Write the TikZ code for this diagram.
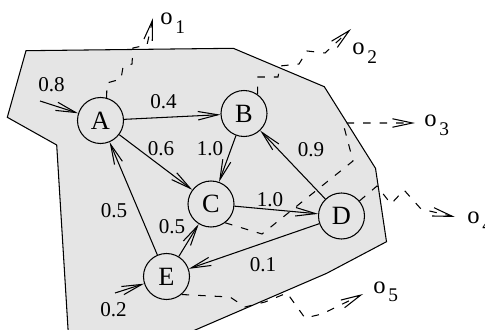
\documentclass[tikz,border=0pt]{standalone}
\usepackage{fontspec}
\setmainfont{Liberation Serif}
\usetikzlibrary{arrows.meta}
\definecolor{Shade}{HTML}{E5E5E5}
\newcommand{\outsub}[1]{o\hspace{1.5pt}\raisebox{-5pt}{\fontsize{11}{11}\selectfont #1}}
\tikzset{
  arr/.style={-{Straight Barb[length=4mm,width=1.7mm]},line width=0.6pt},
  flowarr/.style={arr,dash pattern=on 0.15cm off 0.18cm},
  statebox/.style={circle,draw,fill=Shade,line width=0.6pt,minimum size=0.92cm,inner sep=0pt,font=\fontsize{15}{15}\selectfont},
  wlabel/.style={inner sep=0pt,font=\fontsize{12}{12}\selectfont},
  outlabel/.style={inner sep=0pt,anchor=base west,font=\fontsize{14}{14}\selectfont},
  regionbox/.style={draw,fill=Shade,line width=0.6pt}
}
\begin{document}
\begin{tikzpicture}
  \useasboundingbox (0,0) rectangle (9.7,6.58);
  \clip (0,0) rectangle (9.7,6.58);
  \draw[regionbox] (0.52,5.566) -- (4.666,5.614) -- (6.486,4.846) -- (7.51,3.214) -- (7.73,1.746) -- (6.534,1.114) -- (3.44,-0.22) -- (1.374,-0.22) -- (1.134,3.68) -- (0.146,4.234) -- cycle;
  \node[statebox] (A) at (2.01,4.17) {A};
  \node[statebox] (B) at (4.88,4.31) {B};
  \node[statebox] (C) at (4.22,2.50) {C};
  \node[statebox] (D) at (6.83,2.26) {D};
  \node[statebox] (E) at (3.33,1.05) {E};
  \coordinate (inA) at (0.80,4.56);
  \coordinate (inE) at (2.30,0.72);
  \draw[arr] (inA)--(A);\draw[arr] (inE)--(E);
  \draw[arr] (A)--(B);\draw[arr] (A)--(C);\draw[arr] (B)--(C);\draw[arr] (C)--(D);
  \draw[arr] (D)--(B);\draw[arr] (D)--(E);\draw[arr] (E)--(A);\draw[arr] (E)--(C);
  \node[wlabel] (wA) at (1.03,4.88) {0.8};
  \node[wlabel] (wAB) at (3.27,4.55) {0.4};
  \node[wlabel] (wAC) at (3.22,3.61) {0.6};
  \node[wlabel] (wBC) at (4.20,3.60) {1.0};
  \node[wlabel] (wDB) at (6.22,3.59) {0.9};
  \node[wlabel] (wCD) at (5.40,2.59) {1.0};
  \node[wlabel] (wDE) at (5.26,1.28) {0.1};
  \node[wlabel] (wEA) at (2.28,2.37) {0.5};
  \node[wlabel] (wEC) at (3.44,2.05) {0.5};
  \node[wlabel] (wE) at (2.27,0.39) {0.2};
  \coordinate (t1) at (3.06,6.22);
  \coordinate (t2) at (7.02,6.00);
  \coordinate (t3) at (8.30,4.12);
  \coordinate (t4) at (9.10,2.24);
  \coordinate (t5) at (7.26,0.70);
  \draw[flowarr] (A.75) -- (2.14,4.92) -- (2.42,5.00) -- (2.46,5.24) -- (2.64,5.30) -- (2.66,5.62) -- (2.94,5.68) -- (t1);
  \draw[flowarr] (B.55) -- (5.16,5.04) -- (5.56,5.04) -- (5.60,5.26) -- (5.98,5.30) -- (6.14,5.56) -- (6.50,5.52) -- (t2);
  \draw[flowarr] (C.-53) -- (5.24,1.90) -- (7.06,3.36) -- (6.86,4.12) -- (t3);
  \draw[flowarr] (D.40) -- (7.54,2.86) -- (7.82,2.50) -- (8.08,2.78) -- (8.42,2.40) -- (t4);
  \draw[flowarr] (E.-50) -- (4.60,0.64) -- (4.90,0.44) -- (5.30,0.54) -- (5.74,0.72) -- (6.10,0.22) -- (6.44,0.30) -- (t5);
  \node[outlabel] (o1) at (3.20,6.08) {\outsub{1}};
  \node[outlabel] (o2) at (7.04,5.48) {\outsub{2}};
  \node[outlabel] (o3) at (8.48,4.04) {\outsub{3}};
  \node[outlabel] (o4) at (9.34,2.12) {\outsub{4}};
  \node[outlabel] (o5) at (7.46,0.72) {\outsub{5}};
\end{tikzpicture}
\end{document}
